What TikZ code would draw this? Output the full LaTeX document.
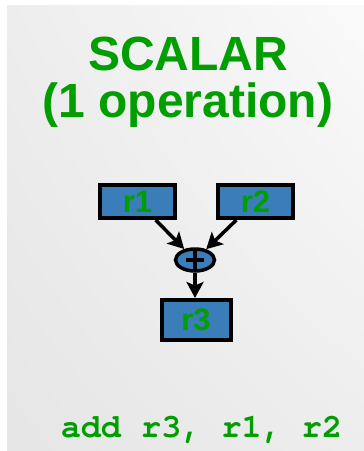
\documentclass[tikz,border=0pt]{standalone}
\usepackage{fontspec}
\setmainfont{Liberation Sans}
\newfontfamily\codefont{TeX Gyre Cursor}
\usepackage{xcolor}
\usepackage{tikz}
\usetikzlibrary{shapes,arrows.meta,shadings}

\definecolor{regblue}{RGB}{58,125,185}
\definecolor{opgreen}{RGB}{0,158,0}

\begin{document}
\begin{tikzpicture}[x=1pt,y=-1pt,>={Stealth[length=16pt,width=17pt,inset=3.5pt]},
    reg/.style={draw, line width=4pt, fill=regblue, text=opgreen, inner sep=0pt,
      font=\bfseries\fontsize{31}{31}\selectfont},
    op/.style={ellipse, draw, line width=3.5pt, fill=regblue, inner sep=0pt,
      minimum width=39pt, minimum height=22pt},
    flow/.style={->, line width=3.5pt}]
      \useasboundingbox (0,0) rectangle (364,451);
      \fill[white] (0,0) rectangle (364,451);
      \shade[upper left=black!7, upper right=black!2, lower left=black!10, lower right=black!7]
        (7,5) rectangle (364,451);

      % heading
      \node[anchor=base, text=opgreen, font=\bfseries\fontsize{48}{48}\selectfont] (scalar) at (188,70) {SCALAR};
      \node[anchor=base, text=opgreen, font=\bfseries\fontsize{48}{48}\selectfont] (oneop) at (188,117) {(1 operation)};

      % registers and the adder
      \node[reg, minimum width=75pt, minimum height=33pt] (r1) at (137.5,201.5) {r1};
      \node[reg, minimum width=75pt, minimum height=33pt] (r2) at (255.5,201.5) {r2};
      \node[op] (add) at (195,260) {};
      \node[reg, minimum width=69pt, minimum height=40pt] (r3) at (196,320) {r3};
      \draw[line width=3.5pt] ([xshift=-9pt]add.center) -- ([xshift=9pt]add.center);
      \draw[line width=3.5pt] ([yshift=-9.5pt]add.center) -- ([yshift=9.5pt]add.center);

      \draw[flow] (r1) -- (add);
      \draw[flow] (r2) -- (add);
      \draw[flow] (add) -- (add |- r3.north);

      % instruction
      \node[anchor=base, text=opgreen, font=\codefont\bfseries\fontsize{33.5}{33.5}\selectfont] (instr) at (201.5,437) {add r3, r1, r2};
    \end{tikzpicture}
\end{document}
